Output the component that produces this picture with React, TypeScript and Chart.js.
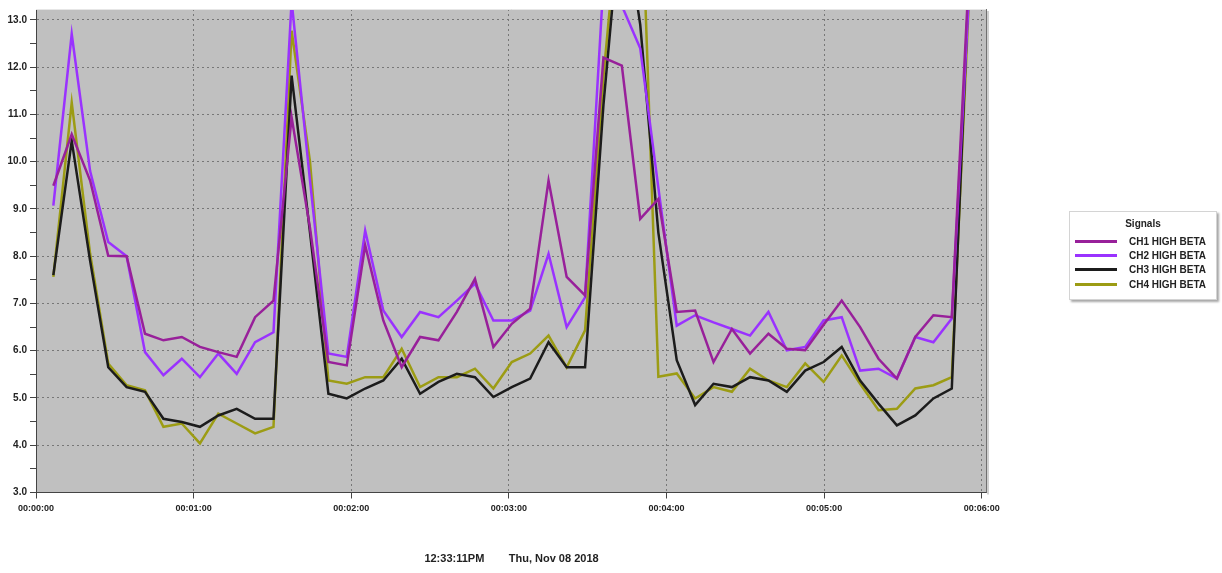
import React, { useEffect, useRef } from 'react';
import { Chart, registerables } from 'chart.js';

Chart.register(...registerables);

// ---- data ----
const seriesNames = ['CH1 HIGH BETA', 'CH2 HIGH BETA', 'CH3 HIGH BETA', 'CH4 HIGH BETA'];
const seriesColors = ['#98209a', '#9a32ff', '#1c1c1c', '#9c9c14'];

// sample times in seconds
const timesSec = [
  6.6, 13.6, 20.6, 27.5, 34.5, 41.5, 48.5, 55.5, 62.4, 69.4,
  76.4, 83.4, 90.4, 97.3, 104.3, 111.3, 118.3, 125.3, 132.2, 139.2,
  146.2, 153.2, 160.2, 167.1, 174.1, 181.1, 188.1, 195.1, 202.0, 209.0,
  216.0, 223.0, 230.0, 236.9, 243.9, 250.9, 257.9, 264.9, 271.8, 278.8,
  285.8, 292.8, 299.8, 306.7, 313.7, 320.7, 327.7, 334.7, 341.6, 348.6,
  355.6,
];

const ch1 = [
  9.49, 10.58, 9.6, 8.01, 8.0, 6.36, 6.22, 6.29, 6.08, 5.97,
  5.87, 6.71, 7.06, 10.94, 8.6, 5.76, 5.69, 8.23, 6.64, 5.65,
  6.29, 6.22, 6.82, 7.52, 6.08, 6.57, 6.89, 9.6, 7.56, 7.17,
  12.2, 12.03, 8.79, 9.21, 6.82, 6.85, 5.76, 6.46, 5.94, 6.36,
  6.04, 6.01, 6.55, 7.06, 6.5, 5.83, 5.41, 6.29, 6.75, 6.71,
  14.5,
];
const ch2 = [
  9.07, 12.7, 9.8, 8.3, 8.0, 5.97, 5.48, 5.83, 5.44, 5.94,
  5.51, 6.18, 6.39, 13.4, 9.6, 5.94, 5.87, 8.54, 6.85, 6.29,
  6.82, 6.71, 7.06, 7.42, 6.64, 6.64, 6.85, 8.05, 6.5, 7.13,
  13.8, 13.3, 12.4, 9.45, 6.53, 6.75, 6.6, 6.46, 6.32, 6.82,
  6.01, 6.08, 6.64, 6.71, 5.58, 5.62, 5.41, 6.29, 6.18, 6.68,
  14.0,
];
const ch3 = [
  7.6, 10.44, 7.9, 5.65, 5.23, 5.13, 4.56, 4.49, 4.39, 4.63,
  4.77, 4.56, 4.56, 11.82, 8.5, 5.09, 4.99, 5.2, 5.37, 5.83,
  5.09, 5.34, 5.51, 5.44, 5.02, 5.23, 5.41, 6.18, 5.65, 5.65,
  11.2, 15.5, 12.9, 8.5, 5.8, 4.85, 5.3, 5.23, 5.44, 5.37,
  5.13, 5.58, 5.76, 6.08, 5.37, 4.88, 4.42, 4.63, 4.99, 5.2,
  14.5,
];
const ch4 = [
  7.56, 11.25, 8.05, 5.73, 5.27, 5.16, 4.39, 4.46, 4.04, 4.67,
  4.46, 4.25, 4.39, 12.77, 10.0, 5.37, 5.3, 5.44, 5.44, 6.04,
  5.23, 5.44, 5.44, 5.62, 5.2, 5.76, 5.94, 6.32, 5.65, 6.43,
  11.8, 16.0, 16.5, 5.45, 5.52, 4.99, 5.23, 5.13, 5.62, 5.37,
  5.23, 5.73, 5.34, 5.9, 5.3, 4.74, 4.77, 5.2, 5.27, 5.44,
  14.0,
];
const seriesValues = [ch1, ch2, ch3, ch4];

// axis ticks
const xTickValues = [0, 60, 120, 180, 240, 300, 360];
const yTickValues = [
  3, 3.5, 4, 4.5, 5, 5.5, 6, 6.5, 7, 7.5, 8, 8.5, 9, 9.5, 10, 10.5, 11, 11.5, 12, 12.5, 13,
];
const xMin = 0;
const xMax = 362;
const yMin = 3;
const yMax = 13.23;
const legendTitle = 'Signals';
const footerText = '12:33:11PM        Thu, Nov 08 2018';

const pad2 = (n: number) => String(n).padStart(2, '0');
const fmtTime = (s: number) => {
  const t = Math.round(s);
  return `${pad2(Math.floor(t / 3600))}:${pad2(Math.floor((t % 3600) / 60))}:${pad2(t % 60)}`;
};
const isInt = (v: number) => Math.abs(v - Math.round(v)) < 1e-6;

const FONT = "'Liberation Sans', Arial, sans-serif";

const plotFrame = {
  id: 'plotFrame',
  beforeDraw(chart: any) {
    const { ctx, chartArea } = chart;
    const { left, top, right, bottom } = chartArea;
    ctx.save();
    ctx.fillStyle = '#c0c0c0';
    ctx.fillRect(left, top, right - left, bottom - top);
    ctx.restore();
  },
  afterDraw(chart: any) {
    const { ctx, chartArea } = chart;
    const { left, top, right, bottom } = chartArea;
    ctx.save();
    ctx.lineWidth = 1;
    ctx.strokeStyle = '#e6e6e6';
    ctx.beginPath();
    ctx.moveTo(left, top + 0.5);
    ctx.lineTo(right, top + 0.5);
    ctx.stroke();
    ctx.strokeStyle = '#707070';
    ctx.beginPath();
    ctx.moveTo(right - 0.5, top);
    ctx.lineTo(right - 0.5, bottom);
    ctx.stroke();
    ctx.strokeStyle = '#d0d0d0';
    ctx.lineWidth = 2;
    ctx.beginPath();
    ctx.moveTo(right + 1, top + 2);
    ctx.lineTo(right + 1, bottom + 2);
    ctx.stroke();
    ctx.restore();
  },
};

export default function App() {
  const canvasRef = useRef<HTMLCanvasElement | null>(null);

  useEffect(() => {
    if (!canvasRef.current) return;
    const chart = new Chart(canvasRef.current, {
      type: 'line',
      data: {
        datasets: seriesNames.map((name, i) => ({
          label: name,
          data: timesSec.map((t, j) => ({ x: t, y: seriesValues[i][j] })),
          borderColor: seriesColors[i],
          backgroundColor: seriesColors[i],
          borderWidth: 2.5,
          pointRadius: 0,
          tension: 0,
          fill: false,
          clip: 0,
        })),
      },
      options: {
        animation: false,
        responsive: false,
        maintainAspectRatio: false,
        layout: { padding: { left: 0, right: 235, top: 8, bottom: 0 } },
        plugins: {
          legend: { display: false },
          tooltip: { enabled: false },
        },
        scales: {
          x: {
            type: 'linear',
            min: xMin,
            max: xMax,
            afterBuildTicks: (scale: any) => {
              scale.ticks = xTickValues.map((v) => ({ value: v }));
            },
            afterFit: (scale: any) => {
              scale.height = 80.5;
            },
            ticks: {
              autoSkip: false,
              maxRotation: 0,
              padding: 5,
              color: '#222',
              font: { family: FONT, size: 9, weight: 'bold' },
              callback: (v: any) => fmtTime(Number(v)),
            },
            grid: {
              color: '#777777',
              lineWidth: 1,
              tickLength: 6,
              tickColor: '#444',
              drawTicks: true,
            },
            border: { display: true, color: '#444', width: 1, dash: [2, 3] },
            title: {
              display: true,
              text: footerText,
              color: '#222',
              font: { family: FONT, size: 11, weight: 'bold' },
              padding: { top: 4, bottom: 7 },
            },
          },
          y: {
            type: 'linear',
            min: yMin,
            max: yMax,
            afterBuildTicks: (scale: any) => {
              scale.ticks = yTickValues.map((v) => ({ value: v }));
            },
            afterFit: (scale: any) => {
              scale.width = 36;
            },
            ticks: {
              autoSkip: false,
              padding: 3,
              color: '#222',
              font: { family: FONT, size: 10, weight: 'bold' },
              callback: (v: any) => (isInt(Number(v)) ? Number(v).toFixed(1) : ''),
            },
            grid: {
              color: (ctx: any) =>
                ctx.tick && isInt(ctx.tick.value) ? '#777777' : 'rgba(0,0,0,0)',
              lineWidth: 1,
              tickLength: 6,
              tickColor: '#444',
            },
            border: { display: true, color: '#444', width: 1, dash: [2, 3] },
          },
        },
      },
      plugins: [plotFrame],
    } as any);
    return () => chart.destroy();
  }, []);

  return (
    <div style={{ position: 'absolute', left: 0, top: 0, width: 1222, height: 573, background: '#fff' }}>
      <canvas ref={canvasRef} width={1222} height={573} style={{ display: 'block', width: 1222, height: 573 }} />
      <div
        style={{
          position: 'absolute',
          left: 1069,
          top: 211,
          width: 148,
          height: 89,
          boxSizing: 'border-box',
          background: '#fff',
          border: '1px solid #d4d4d4',
          boxShadow: '2px 2px 2px #a8a8a8',
          fontFamily: FONT,
          fontSize: 10,
          fontWeight: 'bold',
          color: '#222',
        }}
      >
        <div style={{ textAlign: 'center', marginTop: 5, height: 14, lineHeight: '14px' }}>{legendTitle}</div>
        {seriesNames.map((name, i) => (
          <div key={name} style={{ display: 'flex', alignItems: 'center', height: 14.3, marginTop: i === 0 ? 3 : 0 }}>
            <div style={{ marginLeft: 5, width: 42, height: 3, background: seriesColors[i] }} />
            <div style={{ marginLeft: 12, whiteSpace: 'nowrap' }}>{name}</div>
          </div>
        ))}
      </div>
    </div>
  );
}
